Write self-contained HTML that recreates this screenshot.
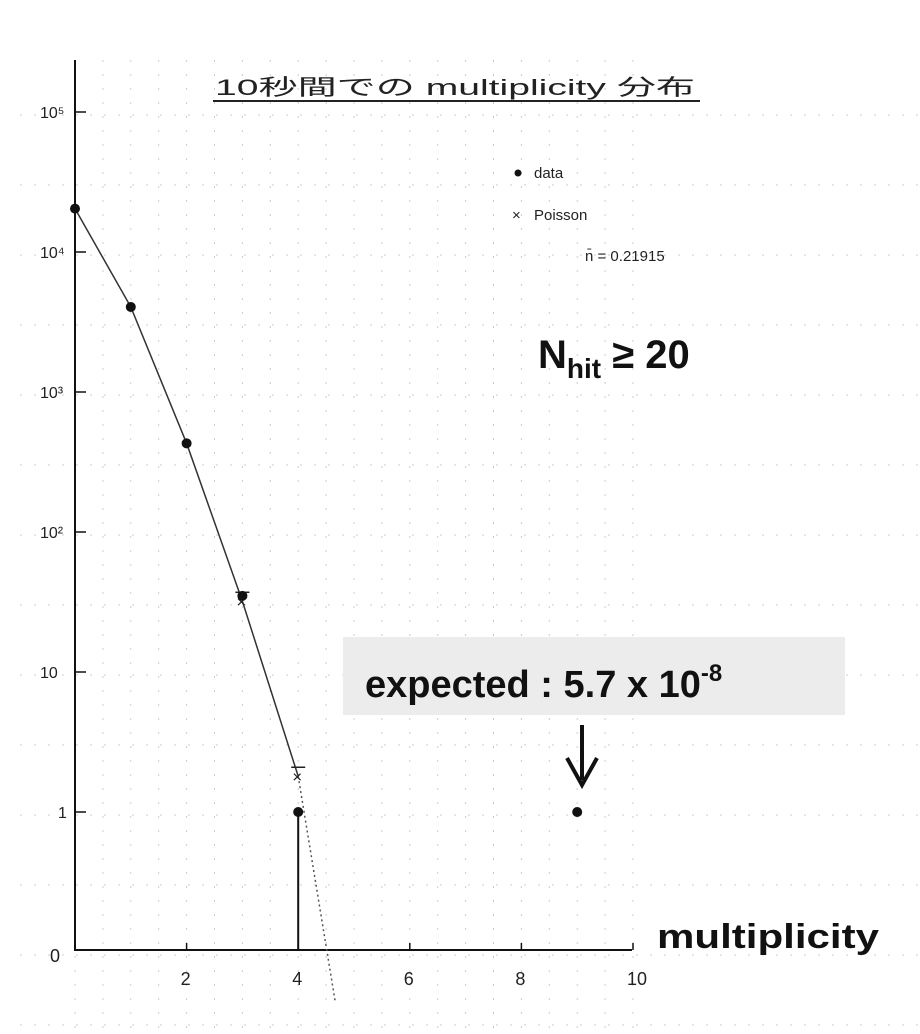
<!DOCTYPE html>
<html><head><meta charset="utf-8"><style>
body{margin:0;background:#fff;}
svg{display:block;}
</style></head><body>
<svg width="920" height="1034" viewBox="0 0 920 1034" font-family="Liberation Sans, Noto Sans CJK JP, sans-serif">
<g id="grid"></g>
<g id="axes"></g>
<g id="marks"></g>
<text x="215" y="95" font-size="22" fill="#222" textLength="480" lengthAdjust="spacingAndGlyphs" font-family="Liberation Sans, Noto Sans CJK JP, sans-serif">10秒間での multiplicity 分布</text>
<line x1="213" y1="101" x2="700" y2="101" stroke="#222" stroke-width="2"/>
<circle cx="518" cy="173" r="3.5" fill="#111"/>
<text x="534" y="178" font-size="15" fill="#222">data</text>
<text x="512" y="220" font-size="15" fill="#222">×</text>
<text x="534" y="220" font-size="15" fill="#222">Poisson</text>
<text x="585" y="261" font-size="15" fill="#222">n̄ = 0.21915</text>
<text x="538" y="368" font-size="40" font-weight="bold" fill="#111">N<tspan font-size="28" dy="10">hit</tspan><tspan dy="-10"> ≥ 20</tspan></text>
<rect x="343" y="637" width="502" height="78" fill="#ececec"/>
<text x="365" y="697" font-size="38" font-weight="bold" fill="#111">expected : 5.7 x 10<tspan font-size="24" dy="-16">-8</tspan></text>
<g>
<line x1="582" y1="725" x2="582" y2="780" stroke="#111" stroke-width="4"/>
<polyline points="567,758 582,785 597,758" fill="none" stroke="#111" stroke-width="4"/>
</g>
<text x="657" y="948" font-size="34" font-weight="bold" fill="#111" textLength="222" lengthAdjust="spacingAndGlyphs">multiplicity</text>
<script>
const dataX=[0,1,2,3,4,9];
const dataY=[20400,4050,430,35,1,1];
const poisX=[0,1,2,3,4];
const poisY=[20400,4050,430,32,1.8];
const poisMarkX=[3,4];
const poisMarkY=[32,1.8];
const extX=[4,4.66];
const extY=[1.8,0.045];
const xTicks=[0,2,4,6,8,10];
const yTickVals=[1e5,1e4,1e3,1e2,10,1];
const yTickLabels=["10⁵","10⁴","10³","10²","10","1"];
const NS="http://www.w3.org/2000/svg";
function sx(v){return 75+v*55.8;}
function sy(v){return 812-140*Math.log10(v);}
function mk(t,a,p){const e=document.createElementNS(NS,t);for(const k in a)e.setAttribute(k,a[k]);p.appendChild(e);return e;}
const grid=document.getElementById('grid'),axes=document.getElementById('axes'),marks=document.getElementById('marks');
for(let i=0;i<=20;i++){const x=75+i*27.9;const l=mk('line',{x1:x,y1:60,x2:x,y2:1034,stroke:'#ccc','stroke-width':1,'stroke-dasharray':'2 12'},grid);

}
for(let i=0;i<14;i++){const y=115+i*70;const l=mk('line',{x1:20,y1:y,x2:920,y2:y,stroke:'#ccc','stroke-width':1,'stroke-dasharray':'2 12'},grid);

}
let a=mk('line',{x1:75,y1:60,x2:75,y2:951,stroke:'#111','stroke-width':2},axes);


a=mk('line',{x1:75,y1:950,x2:632,y2:950,stroke:'#111','stroke-width':2},axes);


xTicks.forEach(v=>{const x=sx(v);mk('line',{x1:x,y1:943,x2:x,y2:950,stroke:'#111','stroke-width':1.5},axes);
if(v>0){const t=mk('text',{x:x-6,y:985,'font-size':18,fill:'#222'},axes);t.textContent=v;

}});
let z=mk('text',{x:50,y:962,'font-size':18,fill:'#222'},axes);z.textContent='0';


yTickVals.forEach((v,i)=>{const y=sy(v);mk('line',{x1:75,y1:y,x2:86,y2:y,stroke:'#111','stroke-width':1.5},axes);
const t=mk('text',{x:yTickLabels[i].length>1?40:58,y:y+6,'font-size':16,fill:'#222'},axes);t.textContent=yTickLabels[i];

});
let pts=poisX.map((x,i)=>sx(x)+','+sy(poisY[i])).join(' ');
let pl=mk('polyline',{points:pts,fill:'none',stroke:'#333','stroke-width':1.5},marks);


let ext=mk('line',{x1:sx(extX[0]),y1:sy(extY[0]),x2:sx(extX[1]),y2:sy(extY[1]),stroke:'#555','stroke-width':1.5,'stroke-dasharray':'2 3'},marks);


poisMarkX.forEach((x,i)=>{const t=mk('text',{x:sx(x)-6,y:sy(poisMarkY[i])+6,'font-size':17,fill:'#222'},marks);t.textContent='×';


const e=mk('line',{x1:sx(x)-7,y1:sy(poisMarkY[i])-9,x2:sx(x)+7,y2:sy(poisMarkY[i])-9,stroke:'#222','stroke-width':1.5},marks);

});
dataX.forEach((x,i)=>{const c=mk('circle',{cx:sx(x),cy:sy(dataY[i]),r:5,fill:'#111'},marks);


if(x===4){const l=mk('line',{x1:sx(x),y1:sy(dataY[i]),x2:sx(x),y2:950,stroke:'#111','stroke-width':2},marks);

}});
</script>
</svg>
</body></html>
